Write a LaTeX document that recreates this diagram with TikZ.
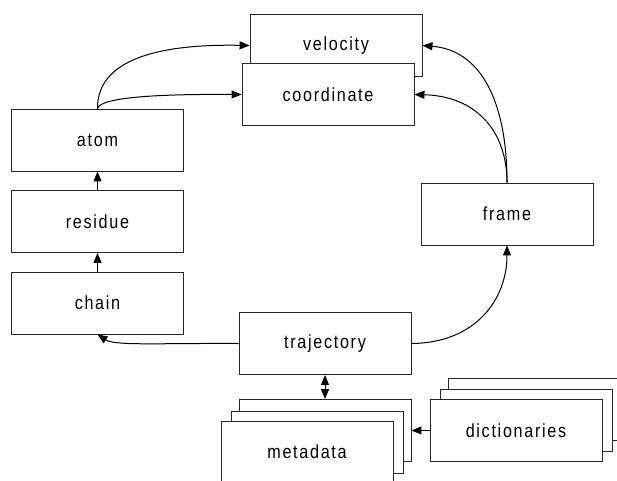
\documentclass[tikz,border=0pt]{standalone}
\usepackage{fontspec}
\setmainfont{Liberation Sans}[FakeStretch=0.85,LetterSpace=9]
\usetikzlibrary{arrows.meta}
\begin{document}
\begin{tikzpicture}[x=1pt,y=-1pt,
  box/.style={draw=black!85,line width=0.9pt,fill=white,minimum width=172pt,minimum height=62pt,inner sep=0pt,font=\fontsize{19}{22}\selectfont},
  link/.style={line width=1pt,-{Triangle[length=10pt,width=8pt]}},
  dlink/.style={line width=1pt,{Triangle[length=10pt,width=8pt]}-{Triangle[length=10pt,width=8pt]}}]
\useasboundingbox (0,0) rectangle (617,480);
\clip (0,0) rectangle (617,480);
% nodes
\node[box] (velocity) at (336,45.5) {velocity};
\node[box] (coordinate) at (328,94.5) {coordinate};
\node[box] (atom) at (97.5,140) {atom};
\node[box] (residue) at (97.5,221.5) {residue};
\node[box] (chain) at (97.5,303) {chain};
\node[box] (frame) at (507,214) {frame};
\node[box] (trajectory) at (325,343.5) {trajectory};
% metadata stack
\node[box] (meta3) at (325,430.5) {};
\node[box] (meta2) at (317,442) {};
\node[box] (metadata) at (307,452) {metadata};
% dictionaries stack
\node[box] (dict3) at (534,409) {};
\node[box] (dict2) at (526,420.5) {};
\node[box] (dictionaries) at (516,430.5) {dictionaries};
% connectors
\draw[link] (atom.north) .. controls (97,55) and (170,44) .. (velocity.west);
\draw[link] (atom.north) .. controls (100,97) and (160,94) .. (coordinate.west);
\draw[link] (frame.north) .. controls (507,100) and (480,50) .. (velocity.east);
\draw[link] (frame.north) .. controls (507,130) and (475,96) .. (coordinate.east);
\draw[link] (residue.north) -- (atom.south);
\draw[link] (chain.north) -- (residue.south);
\draw[link] (trajectory.east) .. controls (475,343) and (507,300) .. (frame.south);
\draw[link] (trajectory.west) .. controls (160,343) and (115,346) .. (chain.south);
\draw[dlink] (trajectory.south) -- (meta3.north);
\draw[link] (dictionaries.west) -- (meta3.east |- dictionaries.west);
\end{tikzpicture}
\end{document}
